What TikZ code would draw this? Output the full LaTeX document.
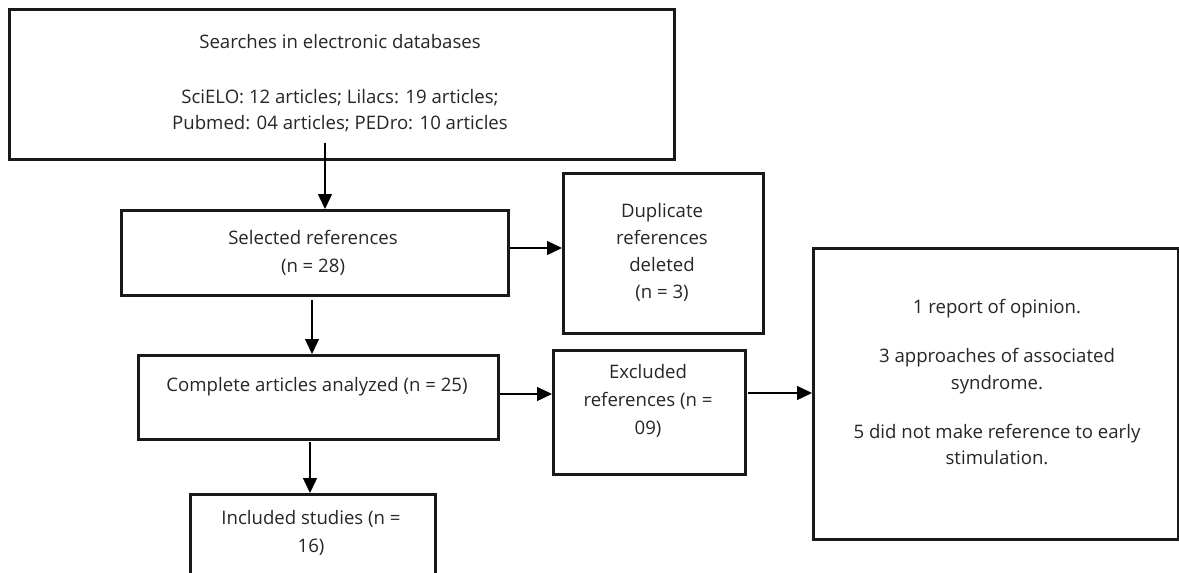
\documentclass[tikz,border=0pt]{standalone}
\usepackage{fontspec}
\setmainfont{Open Sans}
\usetikzlibrary{arrows.meta}
\begin{document}
\begin{tikzpicture}[x=1pt,y=-1pt,
 box/.style={draw=black!90, line width=2.6pt, inner sep=0pt, anchor=north west},
 txt/.style={align=center, text=black!85, font=\fontsize{18.6}{27}\selectfont, inner sep=0pt},
 arr/.style={-{Triangle[length=15pt,width=14pt]}, line width=1.4pt}]
\useasboundingbox (0,0) rectangle (1179,573);
\fill[white] (0,0) rectangle (1179,573);
% boxes
\node[box, minimum width=665pt, minimum height=150pt] (b1) at (8,8) {};
\node[box, minimum width=387pt, minimum height=85pt] (sel) at (120,209) {};
\node[box, minimum width=200pt, minimum height=160pt] (dup) at (562,172) {};
\node[box, minimum width=360pt, minimum height=84pt] (comp) at (137,354) {};
\node[box, minimum width=192pt, minimum height=124pt] (excl) at (552,349) {};
\node[box, minimum width=365pt, minimum height=291pt] (rbox) at (812,247) {};
\node[box, minimum width=245pt, minimum height=92pt] (incl) at (189,493) {};
% texts
\node[txt, font=\fontsize{18.6}{28}\selectfont] (t1) at (340,83.5) {Searches in electronic databases\\[27pt] SciELO: 12 articles; Lilacs: 19 articles;\\[-2pt] Pubmed: 04 articles; PEDro: 10 articles};
\node[txt, font=\fontsize{18.6}{28}\selectfont] (tsel) at (313,253) {Selected references\\ (n = 28)};
\node[txt] (tdup) at (662,252) {Duplicate\\ references\\ deleted\\ (n = 3)};
\node[txt] (tcomp) at (317,387) {Complete articles analyzed (n = 25)};
\node[txt, font=\fontsize{18.6}{28}\selectfont] (texcl) at (648,401) {Excluded\\ references (n =\\ 09)};
\node[txt] (trbox) at (997,382) {1 report of opinion.\\[22pt] 3 approaches of associated\\ syndrome.\\[22pt] 5 did not make reference to early\\[-1pt] stimulation.};
\node[txt, font=\fontsize{18.6}{28}\selectfont] (tincl) at (311,533) {Included studies (n =\\ 16)};
% connectors
\coordinate (s1) at (325,143);
\draw[arr] (s1) -- (s1 |- sel.north);
\draw[arr] (sel.east |- 0,248) -- (dup.west |- 0,248);
\coordinate (s2) at (312,300);
\draw[arr] (s2) -- (s2 |- comp.north);
\draw[arr] (comp.east |- 0,394) -- (excl.west |- 0,394);
\coordinate (s3) at (748,393);
\draw[arr] (s3) -- (s3 -| rbox.west);
\coordinate (s4) at (310,442);
\draw[arr] (s4) -- (s4 |- incl.north);
\end{tikzpicture}
\end{document}
